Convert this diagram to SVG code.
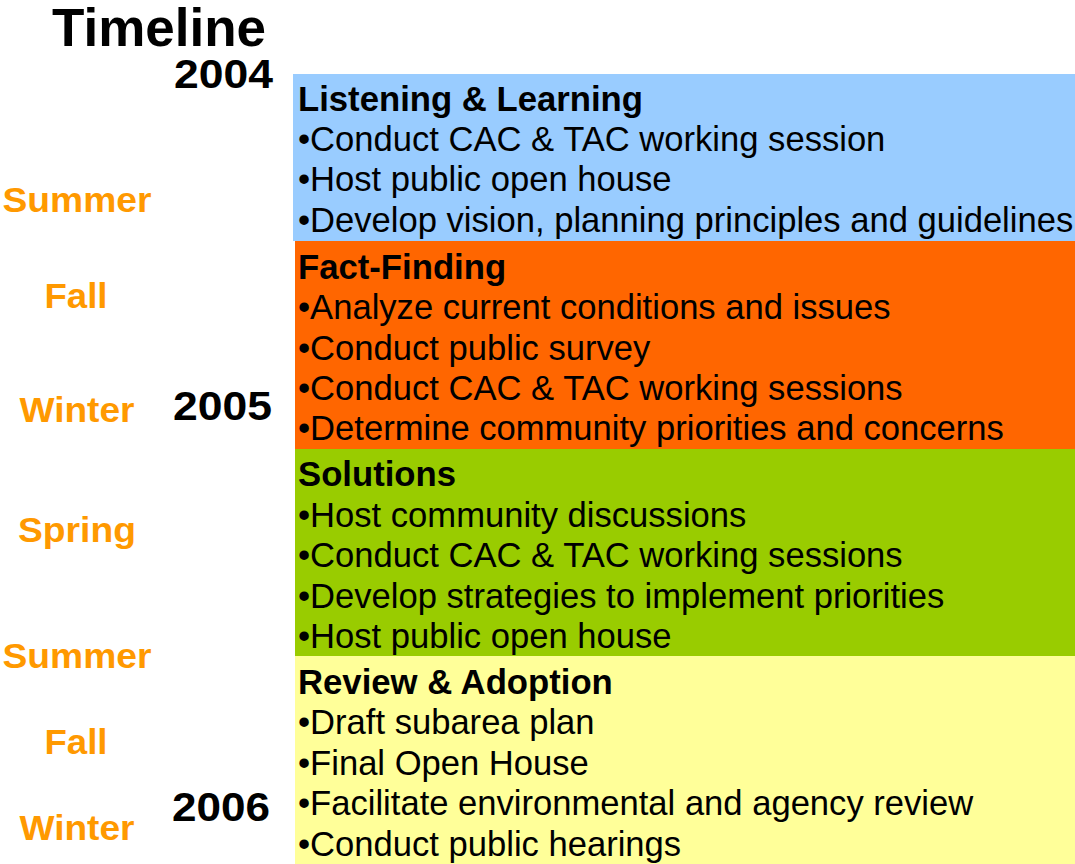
<svg xmlns="http://www.w3.org/2000/svg" width="1075" height="864" viewBox="0 0 1075 864">
  <style>
    .title { font-family: "Liberation Sans", Arial, sans-serif; font-weight: bold; font-size: 53px; fill: #000; }
    .year { font-family: "Liberation Sans", Arial, sans-serif; font-weight: bold; font-size: 40px; fill: #000; text-anchor: end; }
    .season { font-family: "Liberation Sans", Arial, sans-serif; font-weight: bold; font-size: 35px; fill: #FF9900; text-anchor: middle; }
    .head { font-family: "Liberation Sans", Arial, sans-serif; font-weight: bold; font-size: 34.7px; fill: #000; }
    .item { font-family: "Liberation Sans", Arial, sans-serif; font-size: 34.6px; fill: #000; }
  </style>
  <rect width="1075" height="864" fill="#FFFFFF"/>

  <!-- heading and year markers -->
  <text class="title" x="52" y="46">Timeline</text>
  <text class="year" x="273" y="88" textLength="99" lengthAdjust="spacingAndGlyphs">2004</text>
  <text class="year" x="272" y="420" textLength="99" lengthAdjust="spacingAndGlyphs">2005</text>
  <text class="year" x="270" y="821" textLength="98" lengthAdjust="spacingAndGlyphs">2006</text>

  <!-- season labels -->
  <g id="seasons">
    <text class="season" x="77" y="212" textLength="149" lengthAdjust="spacingAndGlyphs">Summer</text>
    <text class="season" x="76" y="308" textLength="63" lengthAdjust="spacingAndGlyphs">Fall</text>
    <text class="season" x="77" y="422" textLength="115" lengthAdjust="spacingAndGlyphs">Winter</text>
    <text class="season" x="77" y="542" textLength="118" lengthAdjust="spacingAndGlyphs">Spring</text>
    <text class="season" x="77" y="668" textLength="149" lengthAdjust="spacingAndGlyphs">Summer</text>
    <text class="season" x="76" y="754" textLength="63" lengthAdjust="spacingAndGlyphs">Fall</text>
    <text class="season" x="77" y="840" textLength="115" lengthAdjust="spacingAndGlyphs">Winter</text>
  </g>

  <!-- phase 1 -->
  <g id="phase-listening">
    <rect x="293" y="74" width="782" height="167" fill="#99CCFF"/>
    <text class="head" x="298" y="111">Listening &amp; Learning</text>
    <text class="item" x="298" y="151">•Conduct CAC &amp; TAC working session</text>
    <text class="item" x="298" y="191">•Host public open house</text>
    <text class="item" x="298" y="232">•Develop vision, planning principles and guidelines</text>
  </g>

  <!-- phase 2 -->
  <g id="phase-fact-finding">
    <rect x="295" y="241" width="780" height="208" fill="#FF6600"/>
    <text class="head" x="298" y="279">Fact-Finding</text>
    <text class="item" x="298" y="319">•Analyze current conditions and issues</text>
    <text class="item" x="298" y="360">•Conduct public survey</text>
    <text class="item" x="298" y="400">•Conduct CAC &amp; TAC working sessions</text>
    <text class="item" x="298" y="440">•Determine community priorities and concerns</text>
  </g>

  <!-- phase 3 -->
  <g id="phase-solutions">
    <rect x="295" y="449" width="780" height="207" fill="#99CC00"/>
    <text class="head" x="298" y="486">Solutions</text>
    <text class="item" x="298" y="527">•Host community discussions</text>
    <text class="item" x="298" y="567">•Conduct CAC &amp; TAC working sessions</text>
    <text class="item" x="298" y="608">•Develop strategies to implement priorities</text>
    <text class="item" x="298" y="648">•Host public open house</text>
  </g>

  <!-- phase 4 -->
  <g id="phase-review">
    <rect x="295" y="656" width="780" height="208" fill="#FFFF99"/>
    <text class="head" x="298" y="694">Review &amp; Adoption</text>
    <text class="item" x="298" y="734">•Draft subarea plan</text>
    <text class="item" x="298" y="775">•Final Open House</text>
    <text class="item" x="298" y="815">•Facilitate environmental and agency review</text>
    <text class="item" x="298" y="856">•Conduct public hearings</text>
  </g>
</svg>
